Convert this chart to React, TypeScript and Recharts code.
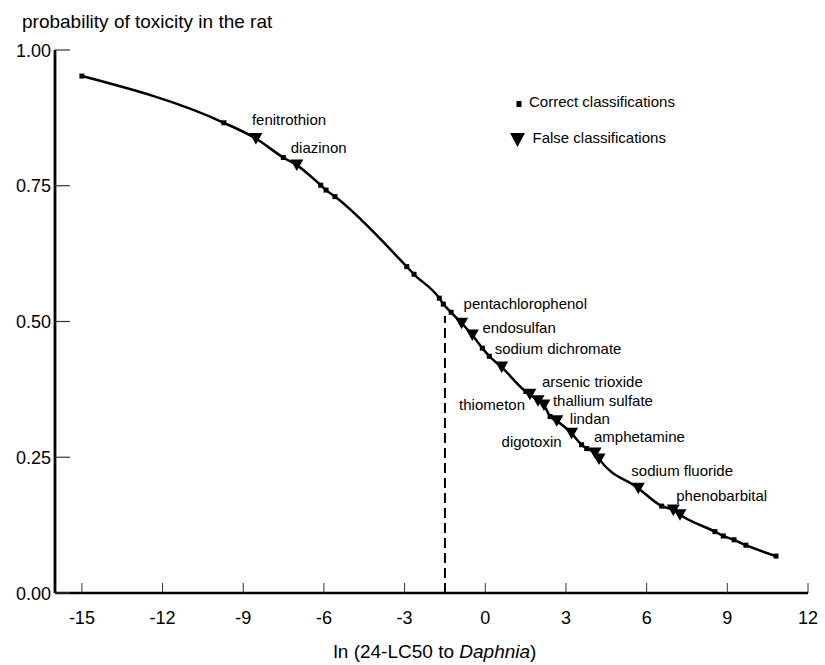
import React from "react";
import {
  ComposedChart,
  Line,
  Scatter,
  XAxis,
  YAxis,
  ReferenceLine,
  Customized,
} from "recharts";

// ---- data ----
const xTicks = [-15, -12, -9, -6, -3, 0, 3, 6, 9, 12];
const yTicks = [0, 0.25, 0.5, 0.75, 1.0];

// Correct classifications (squares): x = ln(24-LC50 to Daphnia), p = probability
const correctX = [
  -15.0, -9.72, -7.51, -6.12, -5.92, -5.59, -2.92, -2.65, -1.71, -1.56, -1.27,
  -0.11, 0.15, 1.51, 2.41, 3.58, 3.77, 6.56, 8.54, 8.85, 9.25, 9.69, 10.81,
];
const correctP = [
  0.952, 0.866, 0.802, 0.751, 0.742, 0.73, 0.601, 0.587, 0.543, 0.532, 0.517,
  0.451, 0.436, 0.371, 0.325, 0.273, 0.266, 0.16, 0.113, 0.105, 0.098, 0.088,
  0.068,
];

// False classifications (triangles)
const falseNames = [
  "fenitrothion",
  "diazinon",
  "pentachlorophenol",
  "endosulfan",
  "sodium dichromate",
  "arsenic trioxide",
  "thiometon",
  "thallium sulfate",
  "lindan",
  "digotoxin",
  "amphetamine",
  "",
  "sodium fluoride",
  "phenobarbital",
  "",
];
const falseX = [
  -8.53, -7.01, -0.88, -0.48, 0.61, 1.66, 1.96, 2.18, 2.66, 3.21, 4.08, 4.23,
  5.69, 6.99, 7.24,
];
const falseP = [
  0.837, 0.788, 0.497, 0.475, 0.416, 0.366, 0.354, 0.346, 0.317, 0.294, 0.258,
  0.247, 0.193, 0.153, 0.144,
];

// threshold (dashed line)
const thresholdX = -1.5;
const thresholdTop = 0.51;

const correctData = correctX.map((x, i) => ({ x, p: correctP[i] }));
const falseData = falseX.map((x, i) => ({ x, p: falseP[i], name: falseNames[i] }));
const curveData = [...correctData, ...falseData]
  .map((d) => ({ x: d.x, p: d.p }))
  .sort((a, b) => a.x - b.x);

// ---- styling / layout ----
const FONT = "'Liberation Sans', Arial, Helvetica, sans-serif";
const W = 825;
const H = 665;

// label placement relative to each triangle (pixels)
const labelPlacement: Record<string, { dx: number; dy: number; anchor?: "start" | "end" }> = {
  fenitrothion: { dx: -4, dy: -14 },
  diazinon: { dx: -6, dy: -12 },
  pentachlorophenol: { dx: 2, dy: -14 },
  endosulfan: { dx: 10, dy: -2 },
  "sodium dichromate": { dx: -7, dy: -13 },
  "arsenic trioxide": { dx: 12, dy: -7 },
  thiometon: { dx: -13, dy: 9, anchor: "end" },
  "thallium sulfate": { dx: 9, dy: 1 },
  lindan: { dx: 13, dy: 3 },
  digotoxin: { dx: -10, dy: 13.5, anchor: "end" },
  amphetamine: { dx: -1, dy: -11 },
  "sodium fluoride": { dx: -7, dy: -12 },
  phenobarbital: { dx: 3, dy: -9 },
};

const SquareShape = (props: any) => {
  const { cx, cy } = props;
  if (cx == null || cy == null) return null;
  return <rect x={cx - 2.5} y={cy - 2.5} width={5} height={5} fill="#000" />;
};

const TriangleShape = (props: any) => {
  const { cx, cy, payload } = props;
  if (cx == null || cy == null) return null;
  const name: string = payload?.name ?? "";
  const lp = labelPlacement[name];
  return (
    <g>
      <polygon
        points={`${cx - 6.5},${cy - 5.5} ${cx + 6.5},${cy - 5.5} ${cx},${cy + 6}`}
        fill="#000"
      />
      {name && lp ? (
        <text
          x={cx + lp.dx}
          y={cy + lp.dy}
          textAnchor={lp.anchor ?? "start"}
          fontSize={15}
          fontFamily={FONT}
          fill="#000"
        >
          {name}
        </text>
      ) : null}
    </g>
  );
};

const XTick = (props: any) => {
  const { x, y, payload } = props;
  return (
    <g>
      <line x1={x} y1={y} x2={x} y2={y - 10} stroke="#333" strokeWidth={1} />
      <text x={x} y={y + 31} textAnchor="middle" fontSize={18} fontFamily={FONT} fill="#000">
        {String(payload.value)}
      </text>
    </g>
  );
};

const YTick = (props: any) => {
  const { x, y, payload } = props;
  return (
    <g>
      <line x1={x} y1={y} x2={x + 15} y2={y} stroke="#333" strokeWidth={1.2} />
      <text x={x - 4} y={y + 6.5} textAnchor="end" fontSize={18} fontFamily={FONT} fill="#000">
        {Number(payload.value).toFixed(2)}
      </text>
    </g>
  );
};

const Decorations = () => (
  <g fontFamily={FONT} fill="#000">
    <text x={22} y={28} fontSize={19}>
      probability of toxicity in the rat
    </text>
    <text x={435} y={658} fontSize={19} textAnchor="middle">
      ln (24-LC50 to <tspan fontStyle="italic">Daphnia</tspan>)
    </text>
    {/* legend */}
    <rect x={516.5} y={101} width={5} height={6} fill="#000" />
    <text x={529} y={106.5} fontSize={15}>
      Correct classifications
    </text>
    <polygon points="510,133 525,133 517.5,147" fill="#000" />
    <text x={532.5} y={142.5} fontSize={15}>
      False classifications
    </text>
  </g>
);

export default function App() {
  return (
    <div style={{ position: "absolute", left: 0, top: 0, width: W, height: H, background: "#fff" }}>
      <ComposedChart
        width={W}
        height={H}
        margin={{ top: 50, right: 17, bottom: 0, left: 0 }}
      >
        <XAxis
          type="number"
          dataKey="x"
          domain={[-16, 12]}
          ticks={xTicks}
          height={72}
          tickSize={0}
          tickMargin={0}
          tickLine={false}
          tick={<XTick />}
          axisLine={{ stroke: "#000", strokeWidth: 2.6 }}
          allowDataOverflow
          interval={0}
        />
        <YAxis
          type="number"
          dataKey="p"
          domain={[0, 1]}
          ticks={yTicks}
          width={55}
          tickSize={0}
          tickMargin={0}
          tickLine={false}
          tick={<YTick />}
          axisLine={{ stroke: "#000", strokeWidth: 2.8 }}
          allowDataOverflow
          interval={0}
        />
        <ReferenceLine
          segment={[
            { x: thresholdX, y: 0 },
            { x: thresholdX, y: thresholdTop },
          ]}
          stroke="#000"
          strokeWidth={2}
          strokeDasharray="10 5"
        />
        <Line
          data={curveData}
          dataKey="p"
          type="monotone"
          stroke="#000"
          strokeWidth={2.5}
          dot={false}
          activeDot={false}
          isAnimationActive={false}
        />
        <Scatter
          data={correctData}
          dataKey="p"
          shape={<SquareShape />}
          isAnimationActive={false}
        />
        <Scatter
          data={falseData}
          dataKey="p"
          shape={<TriangleShape />}
          isAnimationActive={false}
        />
        <Customized component={<Decorations />} />
      </ComposedChart>
    </div>
  );
}
